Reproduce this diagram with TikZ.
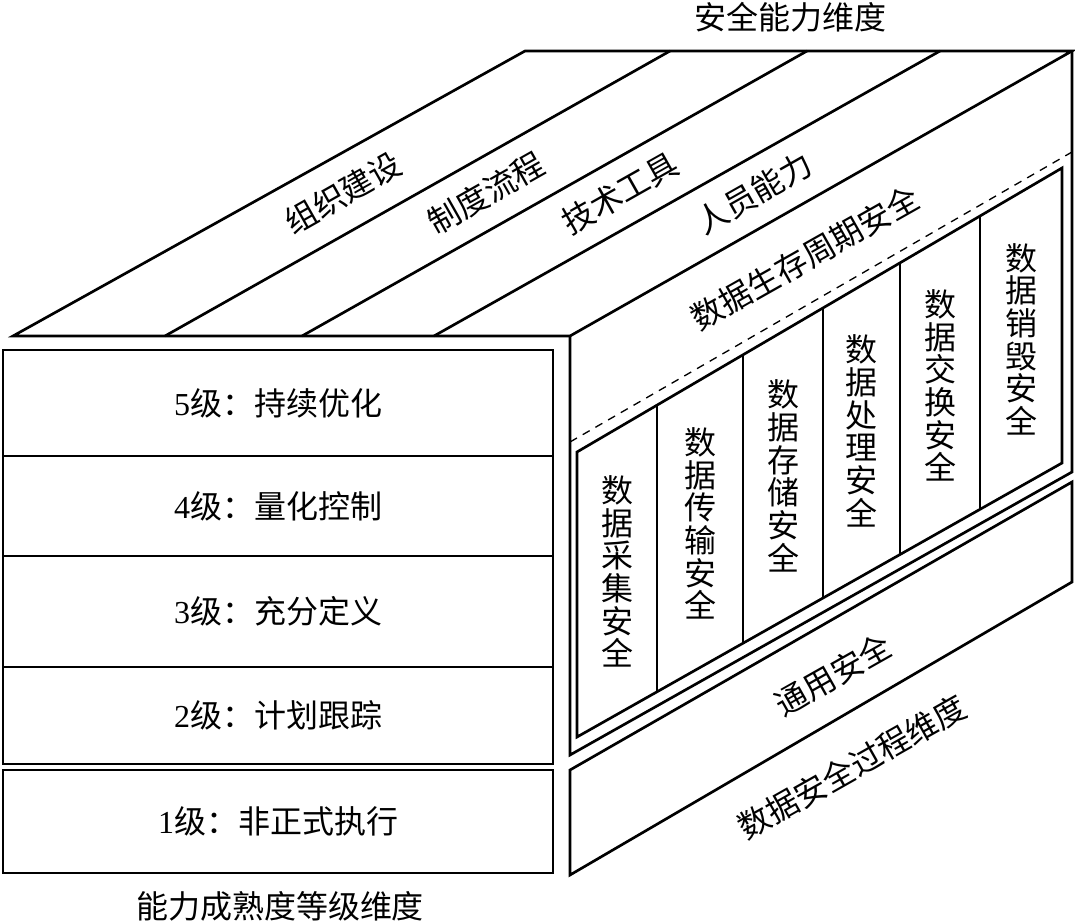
\documentclass[tikz,border=0pt]{standalone}
\usepackage{fontspec}
\setmainfont{Liberation Serif}
\newfontfamily\cjk{Noto Sans CJK SC}

\tikzset{every picture/.style={line width=0.75pt}}
\tikzset{
    lbl/.style={font=\fontsize{24}{24.5}\selectfont\cjk, inner sep=0.75pt},
    lvl/.style={font=\fontsize{24}{24.5}\selectfont, inner sep=0.75pt},
    colbl/.style={lbl, align=center},
    slant/.style={lbl, rotate=29.5}
}

\begin{document}
\begin{tikzpicture}[
            x=0.75pt,
            y=0.75pt,
            yscale=-1,
            xscale=1,
            every node/.style={text=black},
            line width=2pt
        ]
            \useasboundingbox (0,0) rectangle (1075,924);

            % top face
            \draw   (13,336) -- (570,336) -- (1072,51) -- (525,51) -- cycle ;
            \draw    (165,336) -- (670,51) ;
            \draw    (302,336) -- (807,51) ;
            \draw    (434,336) -- (940,51) ;

            % right face
            \draw    (570,336) -- (570,755) -- (1072,472) -- (1072,51) ;
            \draw  [line width=1pt, dash pattern={on 6pt off 5pt}] (570,442) -- (1072,152) ;
            \draw   (577,452) -- (1062,168) -- (1062,463) -- (577,737) -- cycle ;
            \draw    (657,405.2) -- (657,691.8) ;
            \draw    (743,354.8) -- (743,643.2) ;
            \draw    (823,307.9) -- (823,598) ;
            \draw    (900,262.9) -- (900,554.5) ;
            \draw    (980,216) -- (980,509.3) ;
            \draw   (570,770) -- (1072,482) -- (1072,582) -- (570,875) -- cycle ;

            % front face
            \draw   (3,350) -- (553,350) -- (553,764) -- (3,764) -- cycle ;
            \draw    (3,456) -- (553,456) ;
            \draw    (3,556) -- (553,556) ;
            \draw    (3,667) -- (553,667) ;
            \draw   (3,770) -- (553,770) -- (553,873) -- (3,873) -- cycle ;

            \draw (790,17) node (capability) [lbl] {安全能力维度};
            \draw (343,193) node (org) [slant] {组织建设};
            \draw (486,193) node (policy) [slant] {制度流程};
            \draw (620,193) node (tools) [slant] {技术工具};
            \draw (754,193) node (staff) [slant] {人员能力};

            \draw (805,258) node (lifecycle) [slant] {数据生存周期安全};
            \draw (617,571.5) node (collect) [colbl] {数\\据\\采\\集\\安\\全};
            \draw (700,523.7) node (transfer) [colbl] {数\\据\\传\\输\\安\\全};
            \draw (783,476) node (storage) [colbl] {数\\据\\存\\储\\安\\全};
            \draw (861.5,430.9) node (process) [colbl] {数\\据\\处\\理\\安\\全};
            \draw (940,385.6) node (exchange) [colbl] {数\\据\\交\\换\\安\\全};
            \draw (1021,339.1) node (destroy) [colbl] {数\\据\\销\\毁\\安\\全};
            \draw (833,675) node (general) [slant] {通用安全};
            \draw (852,767) node (procdim) [slant] {数据安全过程维度};

            \draw (278,403) node (lvlfive) [lvl] {5{\cjk 级：持续优化}};
            \draw (278,506) node (lvlfour) [lvl] {4{\cjk 级：量化控制}};
            \draw (278,611.5) node (lvlthree) [lvl] {3{\cjk 级：充分定义}};
            \draw (278,715.5) node (lvltwo) [lvl] {2{\cjk 级：计划跟踪}};
            \draw (278,821.5) node (lvlone) [lvl] {1{\cjk 级：非正式执行}};
            \draw (280,906) node (maturity) [lbl] {能力成熟度等级维度};
        \end{tikzpicture}
\end{document}
